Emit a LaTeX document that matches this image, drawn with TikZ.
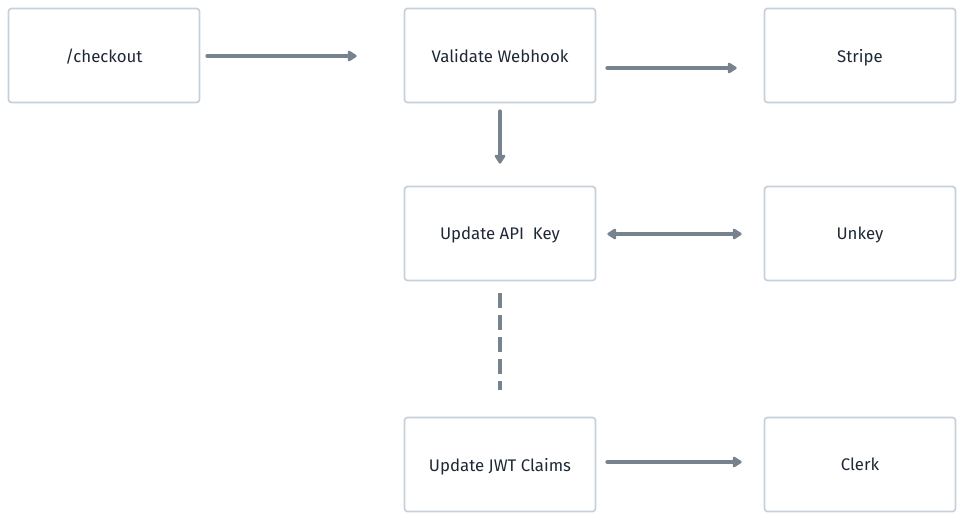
\documentclass[tikz,border=0pt]{standalone}
\usepackage{fontspec}
\setmainfont{Fira Sans}
\usetikzlibrary{arrows.meta}
\definecolor{boxline}{HTML}{C6D0DA}
\definecolor{arrowc}{HTML}{76838F}
\definecolor{txt}{HTML}{1E2836}
\begin{document}
\begin{tikzpicture}[x=1pt,y=-1pt,
  box/.style={draw=boxline,line width=1.7pt,rounded corners=3pt,minimum width=191pt,minimum height=94pt,inner sep=0pt,text depth=0pt,text=txt,font=\fontsize{16.8}{20}\selectfont},
  conn/.style={draw=arrowc,line width=4pt,line cap=round},
  tip/.style={-{Triangle[length=10pt,width=12pt,round]}},
  tips/.style={{Triangle[length=10pt,width=12pt,round]}-{Triangle[length=10pt,width=12pt,round]}}]
\useasboundingbox (0,0) rectangle (964,521);
\node[box] (checkout) at (104,55.5) {/checkout};
\node[box] (validate) at (500,55.5) {Validate Webhook};
\node[box] (stripe) at (860,55.5) {Stripe};
\node[box] (api) at (500,233.5) {Update API\ \ Key};
\node[box] (unkey) at (860,233.5) {Unkey};
\node[box] (jwt) at (500,464.5) {Update JWT Claims};
\node[box] (clerk) at (860,464.5) {Clerk};
\draw[conn,tip,shorten <=7pt,shorten >=47pt] ([yshift=-0.5pt]checkout.east) -- ([yshift=-0.5pt]validate.west);
\draw[conn,tip,shorten <=11pt,shorten >=27pt] ([yshift=-12.5pt]validate.east) -- ([yshift=-12.5pt]stripe.west);
\draw[conn,tip,shorten <=8pt,shorten >=22pt] (validate.south) -- (api.north);
\draw[conn,tips,shorten <=11pt,shorten >=22pt] ([yshift=-0.5pt]api.east) -- ([yshift=-0.5pt]unkey.west);
\draw[conn,line cap=butt,dash pattern=on 15pt off 7pt,shorten <=12pt,shorten >=27pt] (api.south) -- (jwt.north);
\draw[conn,tip,shorten <=11pt,shorten >=22pt] ([yshift=2.5pt]jwt.east) -- ([yshift=2.5pt]clerk.west);
\end{tikzpicture}
\end{document}
